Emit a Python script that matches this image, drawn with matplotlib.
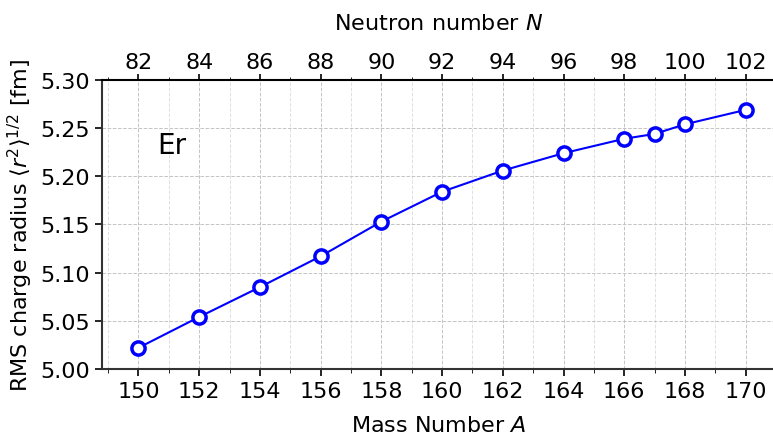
import matplotlib
matplotlib.use("Agg")
import matplotlib.pyplot as plt
from matplotlib.ticker import MultipleLocator

mass_numbers = [150, 152, 154, 156, 158, 160, 162, 164, 166, 167, 168, 170]
radii = [5.022, 5.054, 5.085, 5.117, 5.153, 5.184, 5.206, 5.224, 5.239, 5.244, 5.254, 5.269]
Z = 68
element = "Er"
x_ticks = [150, 152, 154, 156, 158, 160, 162, 164, 166, 168, 170]
n_ticks = [82, 84, 86, 88, 90, 92, 94, 96, 98, 100, 102]

fig = plt.figure(figsize=(7.73, 4.35), dpi=100)
ax = fig.add_axes([102/773, 1 - 370/435, 1 - 102/773 + 0.002, (370 - 81)/435])
ax.set_axisbelow(True)

ax.plot(mass_numbers, radii, '-o', color='blue', lw=1.5, ms=9.5,
        mfc='white', mec='blue', mew=2.5, zorder=3)

ax.set_xlim(148.8, 170.95)
ax.set_ylim(5.0, 5.3)
ax.set_xticks(x_ticks)
ax.xaxis.set_minor_locator(MultipleLocator(1))
ax.yaxis.set_major_locator(MultipleLocator(0.05))
ax.yaxis.set_major_formatter(matplotlib.ticker.FormatStrFormatter('%.2f'))
ax.grid(which='major', ls='--', color='#c4c4c4', lw=0.7)
ax.grid(which='minor', axis='x', ls='--', color='#e0e0e0', lw=0.7)
ax.tick_params(axis='both', which='major', labelsize=16, length=5, width=1.2)
ax.tick_params(axis='x', which='minor', length=3)
for s in ['left', 'bottom']:
    ax.spines[s].set_color('#333333')
    ax.spines[s].set_linewidth(1.5)
ax.spines['right'].set_visible(False)
ax.spines['top'].set_color('black')
ax.spines['top'].set_linewidth(1.5)
ax.spines['top'].set_zorder(5)

ax.set_xlabel(r'Mass Number $A$', fontsize=16, labelpad=10)
ax.set_ylabel(r'RMS charge radius $\langle r^2\rangle^{1/2}$ [fm]', fontsize=16)
ax.text(151.1, 5.233, element, fontsize=20, ha='center', va='center')

top = ax.secondary_xaxis('top', functions=(lambda a: a - Z, lambda n: n + Z))
top.set_xticks(n_ticks)
top.xaxis.set_minor_locator(MultipleLocator(1))
top.tick_params(axis='x', which='major', labelsize=16, length=4, width=1.2, pad=2)
top.tick_params(axis='x', which='minor', length=2.5)
top.spines['top'].set_visible(False)
top.set_xlabel(r'Neutron number $N$', fontsize=16, labelpad=16)

fig.savefig('out.png', dpi=100)
